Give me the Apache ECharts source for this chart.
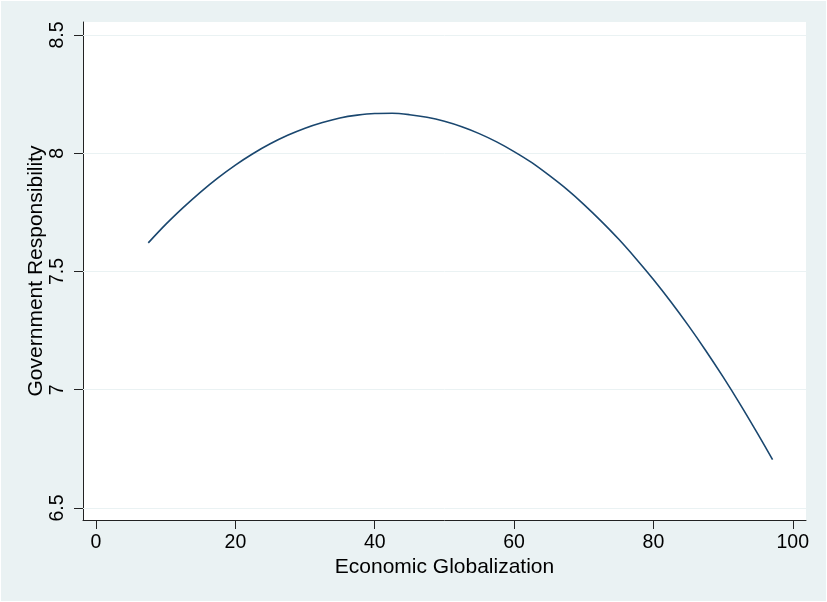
<!DOCTYPE html>
<html>
<head>
<meta charset="utf-8">
<script src="https://cdn.jsdelivr.net/npm/echarts@6/dist/echarts.min.js"></script>
<style>
html,body{margin:0;padding:0;background:#fff;}
#c{position:absolute;left:1px;top:1px;width:825px;height:600px;}
</style>
</head>
<body>
<div id="c"></div>
<script>
// Data
const xValues = [7.5, 10, 12.5, 15, 17.5, 20, 22.5, 25, 27.5, 30, 32.5, 35, 37.5, 40, 42.5, 45, 47.5, 50, 52.5, 55, 57.5, 60, 62.5, 65, 67.5, 70, 72.5, 75, 77.5, 80, 82.5, 85, 87.5, 90, 92.5, 95, 97.1];
const yValues = [7.621, 7.699, 7.770, 7.836, 7.896, 7.950, 7.998, 8.040, 8.076, 8.106, 8.130, 8.149, 8.161, 8.168, 8.169, 8.163, 8.152, 8.135, 8.112, 8.083, 8.048, 8.007, 7.961, 7.907, 7.849, 7.784, 7.713, 7.637, 7.554, 7.466, 7.372, 7.272, 7.166, 7.054, 6.936, 6.812, 6.704];
const xTicks = [0, 20, 40, 60, 80, 100];
const yTicks = [6.5, 7, 7.5, 8, 8.5];
const xTitle = 'Economic Globalization';
const yTitle = 'Government Responsibility';

const chart = echarts.init(document.getElementById('c'));
const font = '"Liberation Sans", Arial, sans-serif';
chart.setOption({
  backgroundColor: '#eaf2f3',
  animation: false,
  grid: {left: 82, right: 20, top: 21, bottom: 81, show: true, backgroundColor: '#fff', borderWidth: 0},
  xAxis: {
    type: 'value', min: -1.87, max: 101.9,
    name: xTitle, nameLocation: 'middle', nameGap: 37, nameMoveOverlap: false,
    nameTextStyle: {color: '#000', fontSize: 21, fontFamily: font},
    axisLine: {show: true, onZero: false, lineStyle: {color: '#222', width: 1}},
    axisTick: {show: true, length: 9, customValues: xTicks, lineStyle: {color: '#222'}},
    axisLabel: {customValues: xTicks, margin: 13, color: '#000', fontSize: 19.5, fontFamily: font},
    splitLine: {show: false}
  },
  yAxis: {
    type: 'value', min: 6.449, max: 8.555,
    name: yTitle, nameLocation: 'middle', nameGap: 36, nameMoveOverlap: false,
    nameTextStyle: {color: '#000', fontSize: 21, fontFamily: font},
    axisLine: {show: true, onZero: false, lineStyle: {color: '#222', width: 1}},
    axisTick: {show: true, length: 9, customValues: yTicks, lineStyle: {color: '#222'}},
    axisLabel: {customValues: yTicks, rotate: 90, margin: 15, color: '#000', fontSize: 19.5, fontFamily: font},
    splitLine: {show: false}
  },
  series: [{
    type: 'line',
    data: [],
    silent: true,
    z: 1,
    markLine: {
      silent: true, symbol: 'none', label: {show: false},
      lineStyle: {color: '#eaf2f3', width: 1, type: 'solid'},
      data: yTicks.map(v => ({yAxis: v}))
    }
  }, {
    type: 'line',
    data: xValues.map((x, i) => [x, yValues[i]]),
    smooth: 0.3,
    symbol: 'none',
    lineStyle: {color: '#1a476f', width: 1.6},
    z: 5
  }]
});
</script>
</body>
</html>
